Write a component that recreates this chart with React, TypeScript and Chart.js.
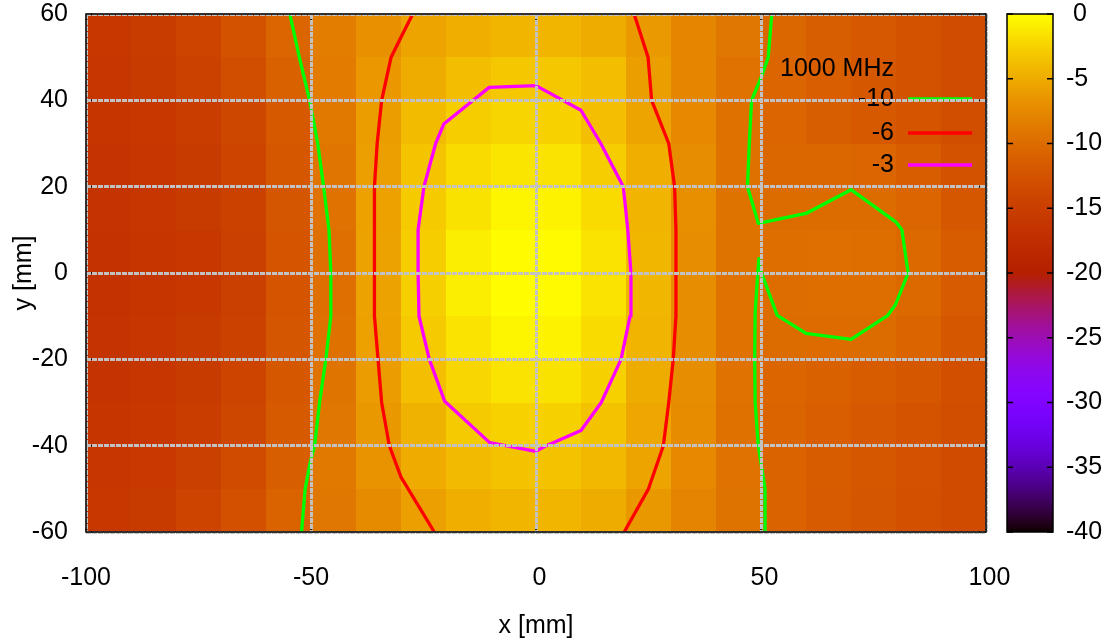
import React, { useEffect, useRef } from 'react';
import { Chart, registerables } from 'chart.js';

Chart.register(...registerables);

// ---------- data ----------
const X_EDGES = [-100, -90, -80, -70, -60, -50, -40, -30, -20, -10, 0, 10, 20, 30, 40, 50, 60, 70, 80, 90, 100];
const Y_EDGES = [60, 50, 40, 30, 20, 10, 0, -10, -20, -30, -40, -50, -60];

const X_TICKS = [-100, -50, 0, 50, 100];
const Y_TICKS = [-60, -40, -20, 0, 20, 40, 60];
const CB_TICKS = [-40, -35, -30, -25, -20, -15, -10, -5, 0];
const CB_MIN = -40;
const CB_MAX = 0;

// level (dB) of each cell, rows from top (y 50..60) to bottom (y -60..-50), columns x -100..100
const ROW_Y55 = [-15.9, -15.3, -14.2, -12.6, -10.6, -8.5, -6.9, -5.5, -4.7, -4.35, -4.35, -4.9, -6.2, -7.7, -9.0, -10.4, -11.2, -11.9, -12.6, -13.3];
const ROW_Y45 = [-16.1, -15.6, -14.6, -13.2, -10.9, -8.6, -6.4, -4.9, -3.8, -3.2, -3.2, -3.8, -5.9, -7.7, -9.4, -10.6, -11.3, -12.0, -12.6, -13.3];
const ROW_Y35 = [-16.3, -15.9, -15.1, -13.9, -11.8, -8.9, -5.95, -3.9, -2.75, -2.35, -2.5, -3.65, -5.5, -7.5, -9.5, -10.6, -11.2, -11.8, -12.4, -13.1];
const ROW_Y25 = [-16.4, -16.1, -15.4, -14.3, -12.0, -9.1, -5.85, -3.35, -2.0, -1.4, -1.5, -2.8, -4.8, -7.1, -9.5, -10.4, -10.4, -10.6, -11.4, -12.6];
const ROW_Y15 = [-16.5, -16.2, -15.6, -14.6, -12.2, -9.4, -5.65, -2.95, -1.6, -0.6, -0.7, -2.0, -4.4, -7.0, -9.3, -10.0, -9.95, -9.95, -10.6, -12.0];
const ROW_Y5 = [-16.6, -16.3, -15.8, -14.8, -12.4, -9.7, -5.6, -2.75, -0.9, -0.15, -0.2, -1.5, -4.2, -7.1, -9.3, -9.8, -9.7, -9.75, -10.2, -11.5];
const ROW_YM5 = [-16.6, -16.3, -15.8, -14.8, -12.4, -9.7, -5.6, -2.7, -0.9, -0.1, -0.2, -1.5, -4.2, -7.1, -9.4, -9.85, -9.75, -9.8, -10.3, -11.6];
const ROW_YM15 = [-16.5, -16.2, -15.6, -14.6, -12.2, -9.5, -5.7, -3.0, -1.5, -0.6, -0.7, -2.0, -4.4, -7.2, -9.4, -10.1, -10.05, -10.1, -10.7, -12.0];
const ROW_YM25 = [-16.4, -16.1, -15.4, -14.3, -12.0, -9.2, -6.05, -3.7, -2.2, -1.5, -1.6, -2.6, -4.9, -7.2, -9.4, -10.5, -11.0, -11.5, -12.1, -12.9];
const ROW_YM35 = [-16.3, -15.9, -15.1, -13.9, -11.7, -9.0, -6.3, -4.5, -3.0, -2.5, -2.6, -3.4, -5.3, -7.3, -9.5, -10.7, -11.3, -11.9, -12.5, -13.2];
const ROW_YM45 = [-16.1, -15.7, -14.8, -13.4, -11.2, -8.9, -6.7, -5.0, -4.0, -3.4, -3.4, -4.1, -5.5, -7.5, -9.4, -10.8, -11.5, -12.1, -12.7, -13.4];
const ROW_YM55 = [-15.9, -15.4, -14.3, -12.8, -10.8, -9.0, -7.4, -5.8, -4.8, -4.3, -4.3, -4.9, -6.3, -7.9, -9.3, -10.8, -11.6, -12.2, -12.8, -13.5];

const CELLS = [ROW_Y55, ROW_Y45, ROW_Y35, ROW_Y25, ROW_Y15, ROW_Y5, ROW_YM5, ROW_YM15, ROW_YM25, ROW_YM35, ROW_YM45, ROW_YM55];

// contour lines [x, y] in mm
const C10_LEFT = [[-54.7, 60], [-52.6, 50], [-50.3, 40], [-48.5, 30], [-47.2, 20], [-46, 10], [-45.6, 0], [-45.6, -10], [-46.7, -20], [-48.1, -30], [-49.2, -40], [-50.2, -44], [-51.3, -50], [-52.1, -60]];
const C10_RIGHT = [[52.4, 60], [51.6, 50], [50.1, 45.5], [47.9, 40], [47.4, 30], [47, 20], [49.4, 11.5], [60, 13.8], [70, 19.3], [80, 11.8], [81.3, 10], [82.7, 0], [79.9, -7.3], [78.2, -9.8], [70, -15.4], [60, -14], [53.6, -9.8], [49.9, 0.6], [49.5, 3.3], [48.7, -9.2], [48.6, -20], [48.7, -30], [49.4, -40], [50, -44], [50.9, -50], [50.9, -60]];
const C6_LEFT = [[-27.4, 60], [-30, 54.6], [-32.2, 50], [-34.3, 40], [-35.3, 30], [-35.9, 20], [-35.9, 10], [-35.9, 0], [-35.9, -10], [-35.1, -20], [-34.3, -30], [-32.6, -40], [-30, -47.3], [-22.6, -60]];
const C6_RIGHT = [[21.8, 60], [24.9, 50], [25.7, 40], [29.5, 30], [30.8, 20], [31.1, 10], [31.1, 0], [31.1, -10], [30.5, -20], [29.5, -30], [28.3, -40], [25, -50], [19.6, -60]];
const C3_LOOP = [[0, 43.4], [-10.4, 43], [-20.5, 34.5], [-22.3, 30], [-24.9, 20], [-26.2, 10], [-26.2, 0], [-26, -10], [-23.7, -20], [-20.3, -29.7], [-10.3, -39.3], [0, -41.3], [2.3, -40], [10, -36.5], [14.5, -30], [18.9, -20], [20.9, -10], [21.1, 0], [20.4, 10], [19.4, 20], [14.4, 30], [10, 37.7], [0, 43.4]];

const KEY_TITLE = '1000 MHz';
const LEVEL_LABELS = ['-10', '-6', '-3'];
const LEVEL_COLORS = ['#00ff00', '#ff0000', '#ff00ff'];

// ---------- helpers ----------
const FONT = { family: "'Liberation Sans', Arial, Helvetica, sans-serif", size: 25 };
const FONT_CSS = "25px 'Liberation Sans', Arial, Helvetica, sans-serif";

function palette(v: number): string {
  const t = Math.min(1, Math.max(0, (v - CB_MIN) / (CB_MAX - CB_MIN)));
  const r = Math.sqrt(t);
  const g = t * t * t;
  const b = Math.max(0, Math.sin(2 * Math.PI * t));
  return `rgb(${Math.round(r * 255)},${Math.round(g * 255)},${Math.round(b * 255)})`;
}

const fmt = (v: number | string) => {
  const n = Number(v);
  return n >= 0 ? ' ' + n : String(n);
};

const toPts = (arr: number[][]) => arr.map(([x, y]) => ({ x, y }));

const heatmapPlugin = {
  id: 'heatmap',
  beforeDatasetsDraw(chart: any) {
    const { ctx, scales } = chart;
    const xs = scales.x;
    const ys = scales.y;
    ctx.save();
    for (let r = 0; r < CELLS.length; r++) {
      const y0 = Math.round(ys.getPixelForValue(Y_EDGES[r]));
      const y1 = Math.round(ys.getPixelForValue(Y_EDGES[r + 1]));
      for (let c = 0; c < CELLS[r].length; c++) {
        const x0 = Math.round(xs.getPixelForValue(X_EDGES[c]));
        const x1 = Math.round(xs.getPixelForValue(X_EDGES[c + 1]));
        ctx.fillStyle = palette(CELLS[r][c]);
        ctx.fillRect(x0, y0, x1 - x0, y1 - y0);
      }
    }
    ctx.restore();
  },
};

const keyAndTicksPlugin = {
  id: 'keyAndTicks',
  afterDatasetsDraw(chart: any) {
    const { ctx, chartArea, scales } = chart;
    const { left, right, top, bottom } = chartArea;
    ctx.save();
    // inward major tick marks
    ctx.strokeStyle = '#000';
    ctx.lineWidth = 1.5;
    const tl = 7;
    ctx.beginPath();
    X_TICKS.forEach((v) => {
      const px = scales.x.getPixelForValue(v);
      ctx.moveTo(px, bottom); ctx.lineTo(px, bottom - tl);
      ctx.moveTo(px, top); ctx.lineTo(px, top + tl);
    });
    Y_TICKS.forEach((v) => {
      const py = scales.y.getPixelForValue(v);
      ctx.moveTo(left, py); ctx.lineTo(left + tl, py);
      ctx.moveTo(right, py); ctx.lineTo(right - tl, py);
    });
    ctx.stroke();

    // key
    const textRight = right - 92;
    ctx.font = FONT_CSS;
    ctx.fillStyle = '#000';
    ctx.textAlign = 'right';
    ctx.textBaseline = 'middle';
    ctx.fillText(KEY_TITLE, textRight, top + 55);
    const rowsY = [top + 85, top + 119, top + 151];
    LEVEL_LABELS.forEach((lab, i) => {
      ctx.fillText(lab, textRight, rowsY[i]);
      ctx.strokeStyle = LEVEL_COLORS[i];
      ctx.lineWidth = 3.3;
      ctx.beginPath();
      ctx.moveTo(right - 78, rowsY[i]);
      ctx.lineTo(right - 14, rowsY[i]);
      ctx.stroke();
    });
    ctx.restore();
  },
};

const framePlugin = {
  id: 'frameAndColorbar',
  afterDraw(chart: any) {
    const { ctx, chartArea, scales } = chart;
    const { left, right, top, bottom } = chartArea;
    ctx.save();
    ctx.strokeStyle = '#000';
    ctx.lineWidth = 1.5;
    ctx.strokeRect(left, top, right - left, bottom - top);

    // colour box
    const cb = scales.cb;
    const bx0 = right + 21;
    const bx1 = right + 67;
    const cTop = Math.round(cb.getPixelForValue(CB_MAX));
    const cBot = Math.round(cb.getPixelForValue(CB_MIN));
    for (let py = cTop; py < cBot; py++) {
      ctx.fillStyle = palette(cb.getValueForPixel(py + 0.5));
      ctx.fillRect(bx0, py, bx1 - bx0, 1);
    }
    ctx.strokeStyle = '#000';
    ctx.lineWidth = 1.5;
    ctx.strokeRect(bx0, cTop, bx1 - bx0, cBot - cTop);
    ctx.beginPath();
    CB_TICKS.forEach((v) => {
      const py = cb.getPixelForValue(v);
      ctx.moveTo(bx0, py); ctx.lineTo(bx0 + 6, py);
      ctx.moveTo(bx1, py); ctx.lineTo(bx1 - 6, py);
    });
    ctx.stroke();
    ctx.restore();
  },
};

export default function App() {
  const ref = useRef<HTMLCanvasElement | null>(null);

  useEffect(() => {
    document.body.style.margin = '0';
    const canvas = ref.current;
    if (!canvas) return;

    const mk = (data: number[][], color: string, label: string) => ({
      label,
      data: toPts(data),
      showLine: true,
      borderColor: color,
      backgroundColor: color,
      borderWidth: 3.3,
      pointRadius: 0,
      pointHoverRadius: 0,
      tension: 0,
      fill: false,
      borderJoinStyle: 'round',
    });

    const gridOpts = { color: '#c2c2c2', lineWidth: 3, drawTicks: false, z: 1 };
    const borderOpts = { display: false, dash: [5, 1] };

    const chart = new Chart(canvas, {
      type: 'scatter',
      data: {
        datasets: [
          mk(C10_LEFT, LEVEL_COLORS[0], LEVEL_LABELS[0]),
          mk(C10_RIGHT, LEVEL_COLORS[0], LEVEL_LABELS[0]),
          mk(C6_LEFT, LEVEL_COLORS[1], LEVEL_LABELS[1]),
          mk(C6_RIGHT, LEVEL_COLORS[1], LEVEL_LABELS[1]),
          mk(C3_LOOP, LEVEL_COLORS[2], LEVEL_LABELS[2]),
        ] as any,
      },
      options: {
        responsive: false,
        animation: false,
        events: [],
        layout: { padding: { top: 14, left: 0, right: 0, bottom: 0 } },
        plugins: { legend: { display: false }, tooltip: { enabled: false } },
        scales: {
          x: {
            type: 'linear',
            position: 'bottom',
            min: -100,
            max: 100,
            afterBuildTicks: (s: any) => { s.ticks = X_TICKS.map((v) => ({ value: v })); },
            ticks: { color: '#000', font: FONT, padding: 31, maxRotation: 0, autoSkip: false, callback: (v: any) => fmt(v) },
            grid: gridOpts,
            border: borderOpts,
            title: { display: true, text: 'x [mm]', color: '#000', font: FONT, padding: { top: 0, bottom: 2 } },
            afterFit: (s: any) => { s.height = 111; s.paddingLeft = 0; s.paddingRight = 0; },
          },
          y: {
            type: 'linear',
            position: 'left',
            min: -60,
            max: 60,
            afterBuildTicks: (s: any) => { s.ticks = Y_TICKS.map((v) => ({ value: v })); },
            ticks: { color: '#000', font: FONT, padding: 18, autoSkip: false, callback: (v: any) => fmt(v) },
            grid: gridOpts,
            border: borderOpts,
            title: { display: true, text: 'y [mm]', color: '#000', font: FONT, padding: { top: 9, bottom: 0 } },
            afterFit: (s: any) => { s.width = 86; s.paddingTop = 0; s.paddingBottom = 0; },
          },
          cb: {
            type: 'linear',
            axis: 'y',
            position: 'right',
            min: CB_MIN,
            max: CB_MAX,
            afterBuildTicks: (s: any) => { s.ticks = CB_TICKS.map((v) => ({ value: v })); },
            ticks: { color: '#000', font: FONT, padding: 80, autoSkip: false, callback: (v: any) => fmt(v) },
            grid: { display: false, drawTicks: false },
            border: { display: false },
            afterFit: (s: any) => { s.width = 129; s.paddingTop = 0; s.paddingBottom = 0; },
          },
        },
      } as any,
      plugins: [heatmapPlugin, keyAndTicksPlugin, framePlugin],
    });

    return () => chart.destroy();
  }, []);

  return (
    <div style={{ width: 1115, height: 643, background: '#fff' }}>
      <canvas ref={ref} width={1115} height={643} style={{ display: 'block' }} />
    </div>
  );
}
